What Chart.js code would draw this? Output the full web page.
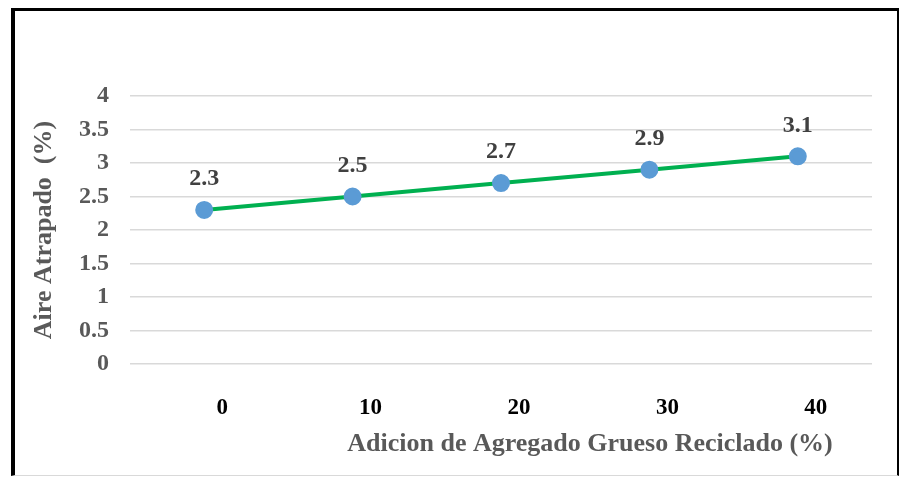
<!DOCTYPE html>
<html>
<head>
<meta charset="utf-8">
<script src="https://cdn.jsdelivr.net/npm/chart.js@4/dist/chart.umd.min.js"></script>
<style>
  body { margin: 0; background: #fff; }
  #frame {
    position: absolute; left: 11px; top: 8px;
    width: 882px; height: 464px;
    border-left: 4px solid #000; border-top: 3px solid #000;
    border-right: 2px solid #000; border-bottom: 1px solid #d9d9d9;
  }
</style>
</head>
<body>
<div id="frame"><canvas id="myChart" width="882" height="464"></canvas></div>
<script>
  // data block
  const labels = ['0', '10', '20', '30', '40'];
  const aire = [2.3, 2.5, 2.7, 2.9, 3.1];
  const yTitle = 'Aire Atrapado  (%)';
  const xTitle = 'Adicion de Agregado Grueso Reciclado (%)';

  const serif = 'Liberation Serif, Times New Roman, serif';

  // point labels + x title drawn on canvas
  const extras = {
    id: 'extras',
    afterDatasetsDraw(chart) {
      const ctx = chart.ctx;
      const meta = chart.getDatasetMeta(0);
      ctx.save();
      ctx.font = 'bold 24px ' + serif;
      ctx.fillStyle = '#404040';
      ctx.textAlign = 'center';
      ctx.textBaseline = 'middle';
      meta.data.forEach(function(pt, i) {
        ctx.fillText(aire[i].toFixed(1), pt.x, pt.y - 31);
      });
      ctx.font = 'bold 26px ' + serif;
      ctx.fillStyle = '#595959';
      ctx.fillText(xTitle, 575, 433);
      ctx.restore();
    }
  };

  const data = {
    labels: labels,
    datasets: [{
      data: aire,
      borderColor: '#00b050',
      borderWidth: 4,
      backgroundColor: '#5b9bd5',
      pointBackgroundColor: '#5b9bd5',
      pointBorderColor: '#5b9bd5',
      pointRadius: 7,
      tension: 0
    }]
  };

  const config = {
    type: 'line',
    data: data,
    plugins: [extras],
    options: {
      responsive: false,
      animation: false,
      layout: { padding: { left: 0, top: 85, right: 25, bottom: 0 } },
      plugins: { legend: { display: false }, tooltip: { enabled: false } },
      scales: {
        x: {
          offset: true,
          grid: { display: false },
          border: { display: false },
          ticks: {
            color: '#000',
            font: { family: serif, size: 23, weight: 'bold' },
            padding: 22,
            labelOffset: 18,
            maxRotation: 0
          },
          afterFit(scale) { scale.height = 111; }
        },
        y: {
          min: 0, max: 4,
          grid: { color: '#d9d9d9', lineWidth: 1.5, drawTicks: false },
          border: { display: false },
          ticks: {
            stepSize: 0.5,
            color: '#595959',
            font: { family: serif, size: 24, weight: 'bold' },
            padding: 21,
            callback: function(v) { return String(v); }
          },
          title: {
            display: true,
            text: yTitle,
            color: '#595959',
            font: { family: serif, size: 26, weight: 'bold' },
            padding: { top: 14, bottom: 0 }
          },
          afterFit(scale) { scale.width = 115; }
        }
      }
    }
  };

  const myChart = new Chart(document.getElementById('myChart'), config);
</script>
</body>
</html>
